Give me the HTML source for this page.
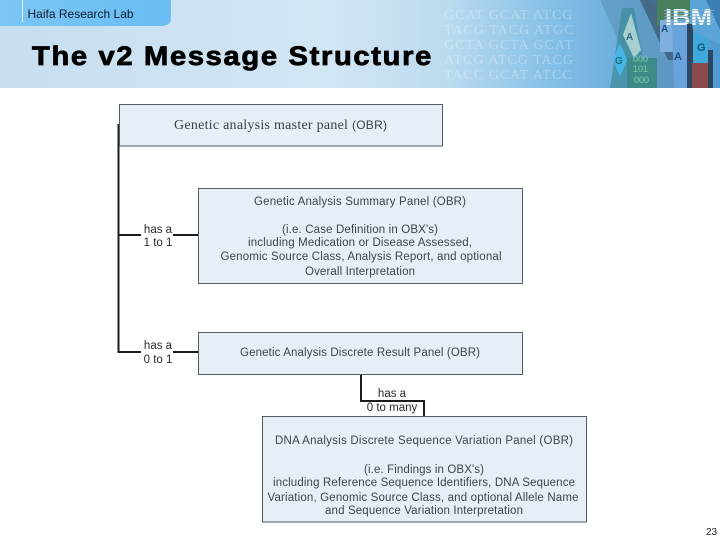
<!DOCTYPE html>
<html>
<head>
<meta charset="utf-8">
<style>
html,body{margin:0;padding:0;background:#fff}
svg{display:block}
text{font-family:"Liberation Sans",sans-serif}
.t{font-size:11.5px;fill:#3f444a;text-anchor:middle}
.l{font-size:11.5px;fill:#2a2a2a;text-anchor:middle}
.d{font-family:"Liberation Serif",serif;font-size:14px;fill:#fff;fill-opacity:.3;letter-spacing:1px}
</style>
</head>
<body>
<svg width="720" height="540" viewBox="0 0 720 540" xmlns="http://www.w3.org/2000/svg">
<defs>
<linearGradient id="hg" x1="0" y1="0" x2="1" y2="0">
<stop offset="0" stop-color="#c6deef"/>
<stop offset=".45" stop-color="#d3e6f4"/>
<stop offset=".62" stop-color="#bcdbef"/>
<stop offset=".78" stop-color="#7fbde5"/>
<stop offset="1" stop-color="#4f97cf"/>
</linearGradient>
<linearGradient id="tab" x1="0" y1="0" x2="1" y2="0">
<stop offset="0" stop-color="#7cc6f4"/>
<stop offset="1" stop-color="#68bdf3"/>
</linearGradient>
</defs>

<rect x="0" y="0" width="720" height="88" fill="url(#hg)"/>

<g>
<text class="d" x="444" y="19">GCAT  GCAT  ATCG</text>
<text class="d" x="444" y="34">TACG  TACG  ATGC</text>
<text class="d" x="444" y="49">GCTA  GCTA  GCAT</text>
<text class="d" x="444" y="64">ATCG  ATCG  TACG</text>
<text class="d" x="444" y="79">TACC  GCAT  ATCC</text>
</g>

<polygon points="600,0 650,0 715,88 640,88" fill="#5a8fb4" fill-opacity=".55"/>
<polygon points="622,8 634,8 648,88 610,88" fill="#3c8a98" fill-opacity=".7"/>
<polygon points="613,60 620,43 627,60 620,77" fill="#45b6e6"/>
<polygon points="631,13 641,50 634,58 623,35" fill="#a8cfd0"/>
<rect x="627" y="58" width="30" height="30" fill="#3d8a88"/>
<polygon points="640,0 657,0 680,60 668,60" fill="#3a5a70" fill-opacity=".75"/>
<rect x="657" y="0" width="33" height="25" fill="#4b7f5c"/>
<rect x="660" y="20" width="13" height="32" fill="#7fb0e0"/>
<polygon points="672,20 688,20 688,88 674,88" fill="#6aa2dc"/>
<rect x="687" y="24" width="6" height="64" fill="#2f4660"/>
<rect x="693" y="32" width="15" height="32" fill="#3fa8dc"/>
<rect x="692" y="63" width="16" height="25" fill="#8a4a4c"/>
<rect x="708" y="50" width="5" height="38" fill="#2d4660"/>
<rect x="713" y="40" width="7" height="48" fill="#4f9ad2"/>
<polygon points="692,0 720,0 720,44" fill="#3c7fb4"/>
<polygon points="690,0 706,0 720,30 720,44 693,32" fill="#5aa4d8"/>
<text x="661" y="32" font-size="10" fill="#20507c" font-weight="bold">A</text>
<text x="697" y="51" font-size="11" fill="#16506e" font-weight="bold">G</text>
<text x="674" y="60" font-size="11" fill="#1e4f80" font-weight="bold">A</text>
<text x="615" y="64" font-size="10" fill="#1a6a7c" font-weight="bold">G</text>
<text x="626" y="40" font-size="10" fill="#2f6a80" font-weight="bold">A</text>
<text x="633" y="62" font-size="9" fill="#7fd0a8">000</text>
<text x="633" y="72" font-size="9" fill="#7fd0a8">101</text>
<text x="634" y="83" font-size="9" fill="#7fd0a8">000</text>

<text x="665" y="25" font-family="Liberation Serif" font-size="23" font-weight="bold" fill="#f2f8fc" textLength="47" lengthAdjust="spacingAndGlyphs">IBM</text>
<g fill="#7cb0d6" fill-opacity=".75">
<rect x="664" y="10" width="50" height="1"/><rect x="664" y="13" width="50" height="1"/><rect x="664" y="16" width="50" height="1"/><rect x="664" y="19" width="50" height="1"/><rect x="664" y="22" width="50" height="1"/>
</g>

<path d="M0 0H171V18Q171 26 161 26H0Z" fill="url(#tab)"/>
<rect x="22" y="0" width="1" height="22" fill="#e6f4fc"/>
<text x="27.500" y="18" font-size="12" fill="#0d1b2e">Haifa Research Lab</text>

<text transform="translate(32 65) scale(1.1 1)" x="0" y="0" font-size="26.500" font-weight="bold" fill="#000" stroke="#000" stroke-width=".8" textLength="363" lengthAdjust="spacing">The v2 Message Structure</text>

<!-- connectors -->
<g fill="none" stroke="#1c1c1c" stroke-width="2">
<path d="M118.500 124V352H141"/>
<path d="M119 235H141"/>
<path d="M173 235H198"/>
<path d="M173 352H198"/>
<path d="M361 374V401H424V416"/>
</g>

<!-- boxes -->
<g fill="#e8eef6" stroke="#555c64" stroke-width="1">
<rect x="119.500" y="104.500" width="323" height="41.500"/>
<rect x="198.500" y="188.500" width="324" height="95"/>
<rect x="198.500" y="332.500" width="324" height="42"/>
<rect x="262.500" y="416.500" width="324" height="105.500"/>
</g>

<text x="280.500" y="129" font-family="Liberation Serif" font-size="14" fill="#3c4046" text-anchor="middle" textLength="213" lengthAdjust="spacing"><tspan font-family="Liberation Serif">Genetic analysis master panel </tspan><tspan font-family="Liberation Sans" font-size="12">(OBR)</tspan></text>

<text class="t" x="360" y="205" textLength="212" lengthAdjust="spacing">Genetic Analysis Summary Panel (OBR)</text>
<text class="t" x="360" y="233" textLength="156" lengthAdjust="spacing">(i.e. Case Definition in OBX's)</text>
<text class="t" x="360" y="246" textLength="224" lengthAdjust="spacing">including Medication or Disease Assessed,</text>
<text class="t" x="361" y="260" font-size="11" textLength="281" lengthAdjust="spacing">Genomic Source Class, Analysis Report, and optional</text>
<text class="t" x="360" y="275" textLength="110" lengthAdjust="spacing">Overall Interpretation</text>

<text class="t" x="360" y="356" textLength="240" lengthAdjust="spacing">Genetic Analysis Discrete Result Panel (OBR)</text>

<text class="t" x="424" y="444" textLength="298" lengthAdjust="spacing">DNA Analysis Discrete Sequence Variation Panel  (OBR)</text>
<text class="t" x="424" y="473" textLength="120" lengthAdjust="spacing">(i.e. Findings in OBX's)</text>
<text class="t" x="424" y="486" textLength="302" lengthAdjust="spacing">including Reference Sequence Identifiers, DNA Sequence</text>
<text class="t" x="423" y="501" textLength="311" lengthAdjust="spacing">Variation, Genomic Source Class, and optional Allele Name</text>
<text class="t" x="424" y="514" textLength="198" lengthAdjust="spacing">and Sequence Variation Interpretation</text>

<text class="l" x="158" y="233">has a</text>
<text class="l" x="158" y="246">1 to 1</text>
<text class="l" x="158" y="349">has a</text>
<text class="l" x="158" y="363">0 to 1</text>
<text class="l" x="392" y="397">has a</text>
<text class="l" x="392" y="411" font-size="11">0 to many</text>

<text x="706" y="535" font-size="10" fill="#222">23</text>
</svg>
</body>
</html>
